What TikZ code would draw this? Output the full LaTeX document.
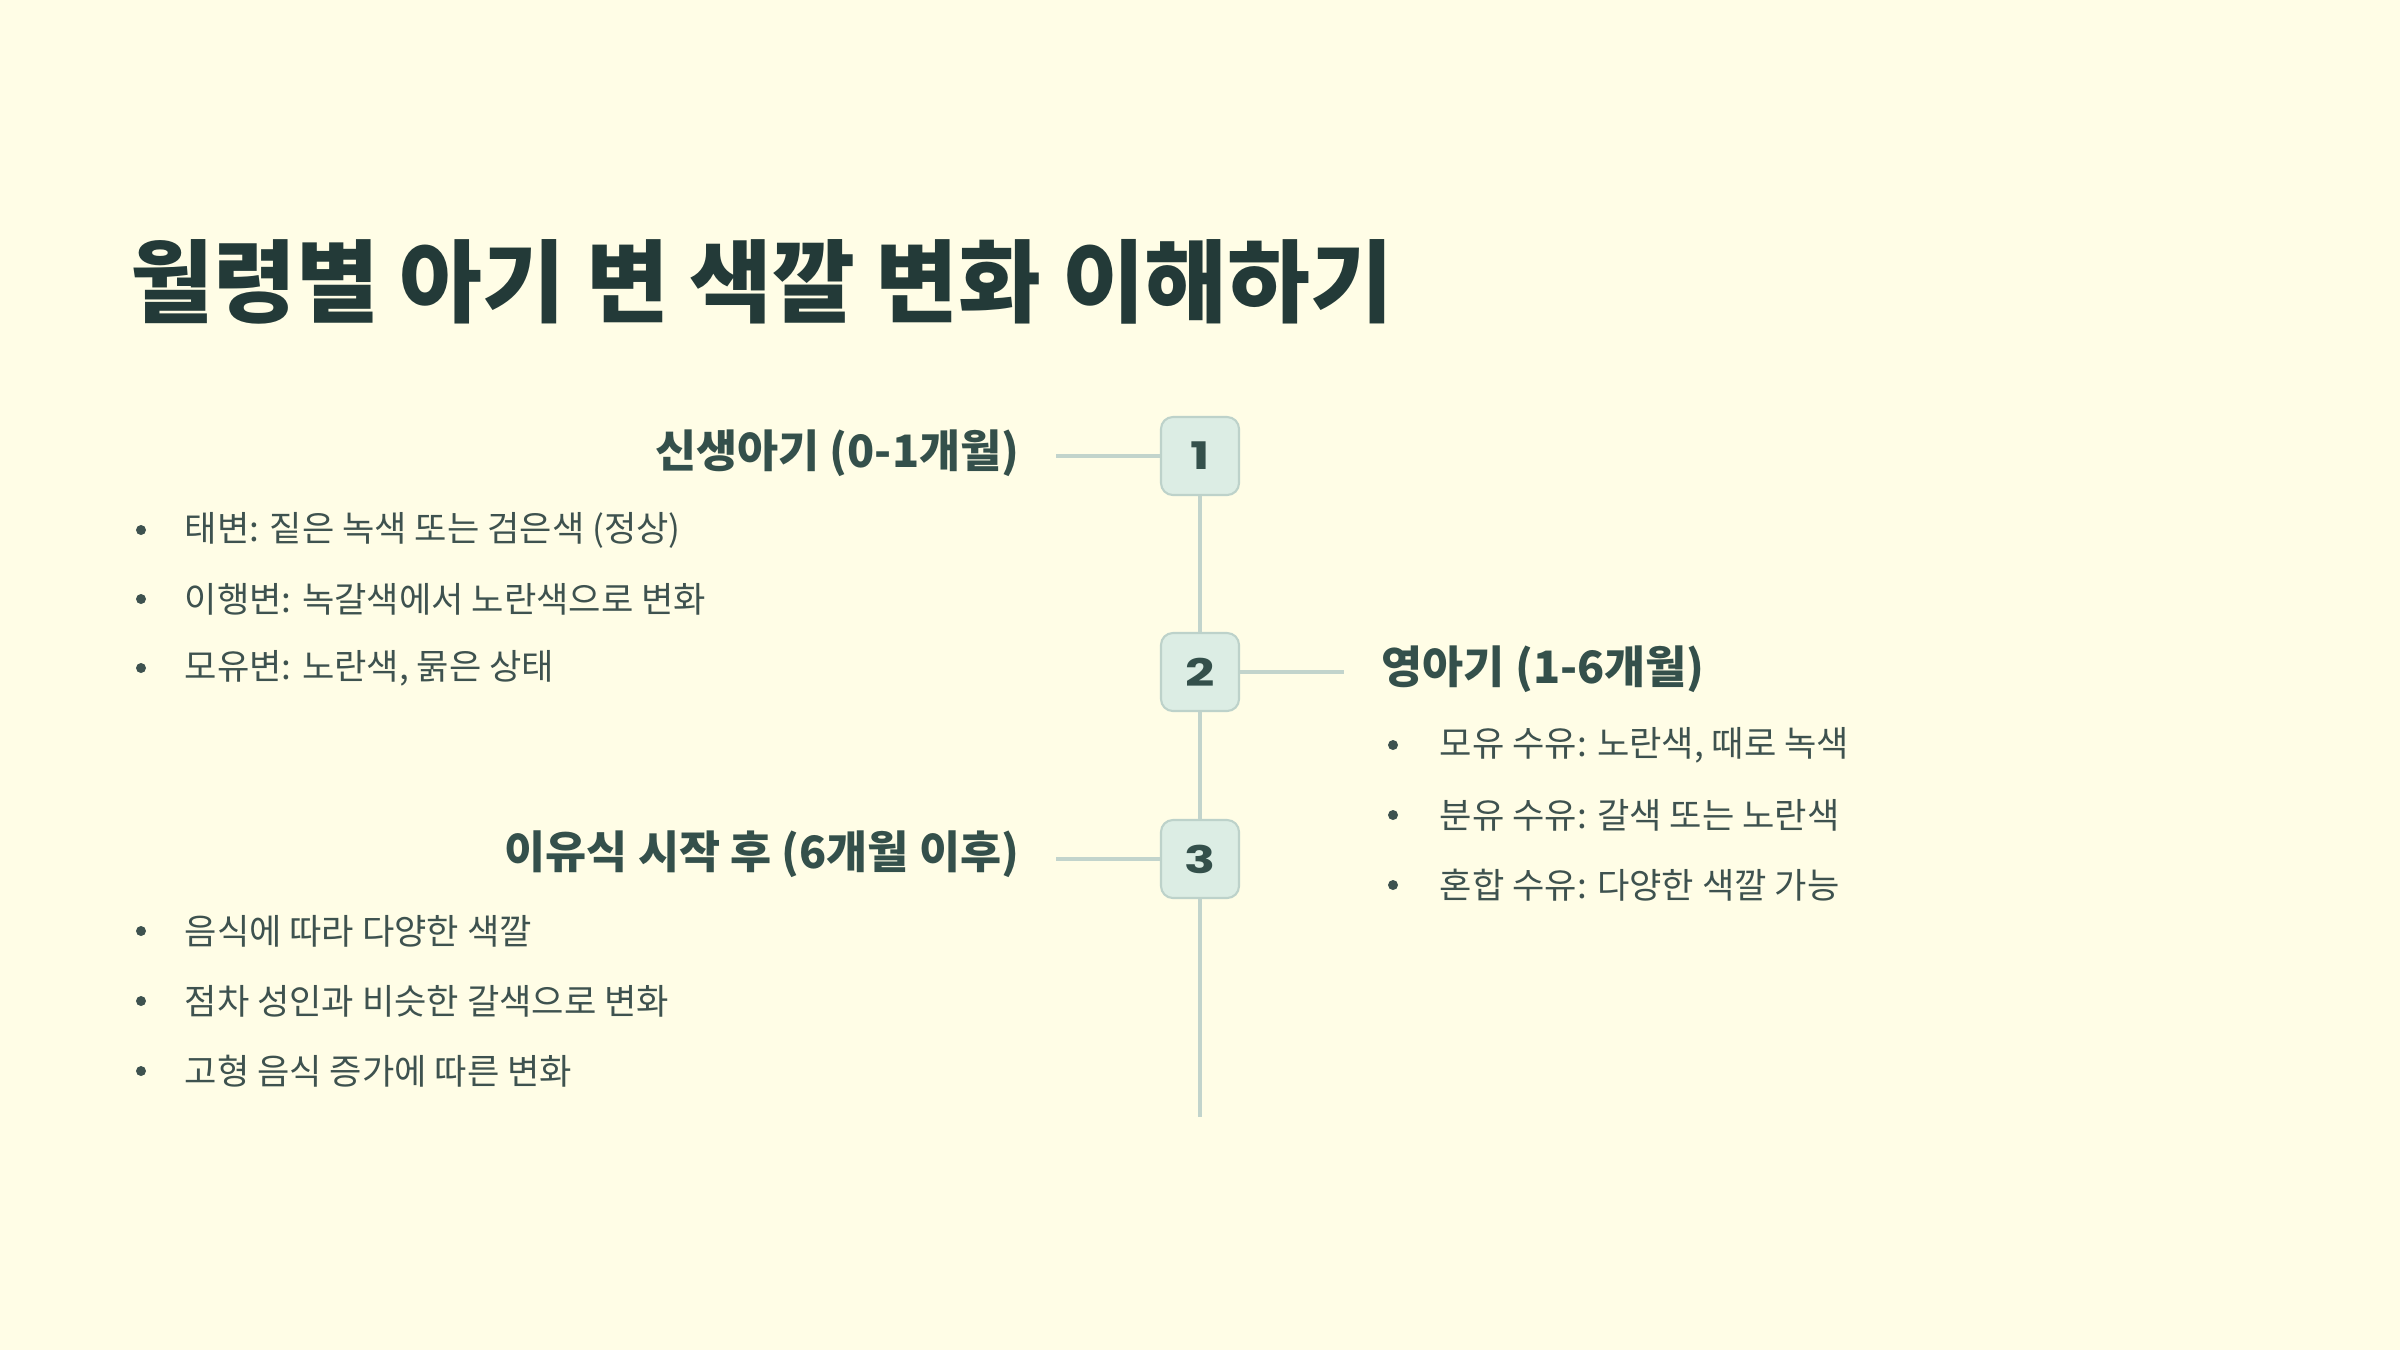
\documentclass[tikz,border=0pt]{standalone}
\usepackage{fontspec}
\usepackage{xcolor}
\usepackage{tikz}
\usetikzlibrary{positioning}
\setmainfont{Noto Sans CJK KR}
\newfontfamily\numfont{Poppins}[FakeStretch=1.35]
\definecolor{paper}{HTML}{FFFDE6}
\definecolor{ink}{HTML}{233A38}
\definecolor{headink}{HTML}{34504B}
\definecolor{bodyink}{HTML}{3E524F}
\definecolor{boxfill}{HTML}{DCEDE4}
\definecolor{boxline}{HTML}{BDD2CA}
\definecolor{spineline}{HTML}{C2D4CC}

\begin{document}
\begin{tikzpicture}[
		x=0.01cm, y=-0.01cm,
		title/.style={anchor=west, inner sep=0pt, text=ink, font=\fontsize{25.6}{31}\selectfont\bfseries},
		head/.style={inner sep=0pt, text=headink, font=\fontsize{12.7}{15}\selectfont\bfseries},
		item/.style={anchor=west, inner sep=0pt, text=bodyink, font=\fontsize{10}{12}\selectfont},
		dot/.style={circle, fill=bodyink, inner sep=0pt, minimum size=0.1cm},
		stepnum/.style={draw=boxline, fill=boxfill, line width=0.6pt, rounded corners=3.4pt, minimum size=0.78cm, inner sep=0pt, text=headink, font=\numfont\fontsize{10.8}{12}\selectfont\bfseries},
		spine/.style={draw=spineline, line width=0.95pt}
	]
		\fill[paper] (0,0) rectangle (2400,1350);
		\useasboundingbox (0,0) rectangle (2400,1350);

		% Title
		\node[title] (title) at (130,282) {월령별 아기 변 색깔 변화 이해하기};

		% Timeline
		\node[stepnum] (s1) at (1200,456) {1};
		\node[stepnum] (s2) at (1200,672) {2};
		\node[stepnum] (s3) at (1200,859) {3};
		\coordinate (tail) at (1200,1117);
		\coordinate (h1) at (1056,456);
		\coordinate (h2) at (1344,672);
		\coordinate (h3) at (1056,859);
		\draw[spine] (s1) -- (s2);
		\draw[spine] (s2) -- (s3);
		\draw[spine] (s3) -- (tail);
		\draw[spine] (s1) -- (h1);
		\draw[spine] (s2) -- (h2);
		\draw[spine] (s3) -- (h3);

		% Step 1: newborn
		\node[head, anchor=east] (t1) at (1020,453) {신생아기 (0-1개월)};
		\node[dot] (d1a) at (141,530) {};
		\node[item] (i1a) at (184,530) {태변: 짙은 녹색 또는 검은색 (정상)};
		\node[dot] (d1b) at (141,599) {};
		\node[item] (i1b) at (184,599) {이행변: 녹갈색에서 노란색으로 변화};
		\node[dot] (d1c) at (141,668) {};
		\node[item] (i1c) at (184,668) {모유변: 노란색, 묽은 상태};

		% Step 2: infant
		\node[head, anchor=west] (t2) at (1381,669) {영아기 (1-6개월)};
		\node[dot] (d2a) at (1393,745) {};
		\node[item] (i2a) at (1439,745) {모유 수유: 노란색, 때로 녹색};
		\node[dot] (d2b) at (1393,815) {};
		\node[item] (i2b) at (1439,815) {분유 수유: 갈색 또는 노란색};
		\node[dot] (d2c) at (1393,885) {};
		\node[item] (i2c) at (1439,885) {혼합 수유: 다양한 색깔 가능};

		% Step 3: after weaning
		\node[head, anchor=east] (t3) at (1020,854) {이유식 시작 후 (6개월 이후)};
		\node[dot] (d3a) at (141,931) {};
		\node[item] (i3a) at (184,931) {음식에 따라 다양한 색깔};
		\node[dot] (d3b) at (141,1001) {};
		\node[item] (i3b) at (184,1001) {점차 성인과 비슷한 갈색으로 변화};
		\node[dot] (d3c) at (141,1071) {};
		\node[item] (i3c) at (184,1071) {고형 음식 증가에 따른 변화};
	\end{tikzpicture}
\end{document}
